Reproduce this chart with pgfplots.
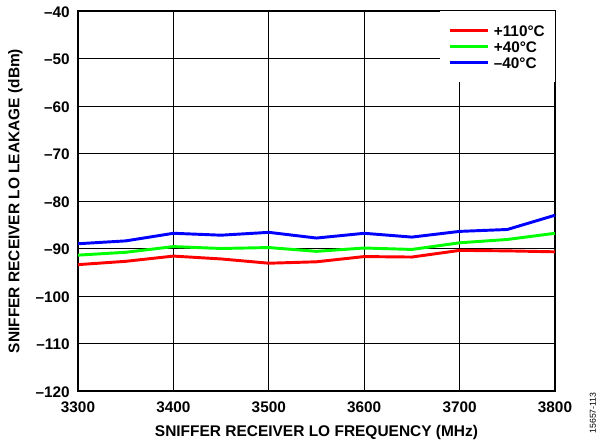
\documentclass[border=0pt]{standalone}
\usepackage{fontspec}
\setmainfont{Liberation Sans}
\usepackage{pgfplots}
\pgfplotsset{compat=1.18}
\definecolor{cred}{RGB}{255,0,0}
\definecolor{cgreen}{RGB}{0,255,0}
\definecolor{cblue}{RGB}{0,0,255}
\begin{document}
\begin{tikzpicture}
\begin{axis}[
  scale only axis, width=357.75pt, height=285pt,
  xmin=3300, xmax=3800, ymin=-120, ymax=-40,
  xtick={3300,3400,...,3800},
  xticklabels={3300,3400,3500,3600,3700,3800},
  ytick={-120,-110,...,-40},
  yticklabels={–120,–110,–100,–90,–80,–70,–60,–50,–40},
  grid=major, major grid style={black, line width=0.6pt},
  axis line style={line width=1.3pt},
  tick style={draw=none},
  ticklabel style={font=\bfseries\fontsize{11.5}{13}\selectfont, inner sep=0pt},
  xticklabel style={anchor=base, yshift=-16pt},
  yticklabel style={anchor=base east, xshift=-6pt, yshift=-4.6pt},
  xlabel={SNIFFER RECEIVER LO FREQUENCY (MHz)},
  ylabel={SNIFFER RECEIVER LO LEAKAGE (dBm)},
  label style={font=\bfseries\fontsize{11.6}{13}\selectfont, inner sep=0pt},
  xlabel style={at={(rel axis cs:0.5,0)}, anchor=base, yshift=-34.5pt},
  ylabel style={at={([xshift=-47pt]rel axis cs:0,0.5)}, anchor=center, rotate=0},
  legend style={at={(1,1)}, anchor=north east, draw=none, fill=white,
    font=\bfseries\fontsize{11.5}{12}\selectfont, inner xsep=6.5pt, inner ysep=9.5pt,
    nodes={inner sep=1pt, text height=8.2pt, text depth=0pt}, row sep=1.8pt,
    column sep=2.5pt},
  legend cell align=left,
  legend image code/.code={\draw[#1, line width=2.2pt] (0pt,0pt) -- (28.5pt,0pt);},
  clip=false,
]
\addplot[cred, line width=2.2pt] coordinates {
(3300,-93.4) (3350,-92.7) (3400,-91.6) (3450,-92.2) (3500,-93.1) (3550,-92.8)
(3600,-91.7) (3650,-91.8) (3700,-90.4) (3750,-90.5) (3800,-90.7)};
\addlegendentry{+110°C}
\addplot[cgreen, line width=2.2pt] coordinates {
(3300,-91.4) (3350,-90.8) (3400,-89.6) (3450,-90.0) (3500,-89.8) (3550,-90.6)
(3600,-89.9) (3650,-90.2) (3700,-88.8) (3750,-88.1) (3800,-86.8)};
\addlegendentry{+40°C}
\addplot[cblue, line width=2.2pt] coordinates {
(3300,-89.0) (3350,-88.4) (3400,-86.8) (3450,-87.2) (3500,-86.6) (3550,-87.8)
(3600,-86.8) (3650,-87.6) (3700,-86.4) (3750,-86.0) (3800,-83.0)};
\addlegendentry{–40°C}
\node[rotate=90, font=\fontsize{6.5}{7}\selectfont, anchor=center]
  at ([xshift=28.5pt,yshift=-16.5pt]rel axis cs:1,0) {15657-113};
\coordinate (LL) at (rel axis cs:0,0);
\coordinate (UR) at (rel axis cs:1,1);
\end{axis}
\pgfresetboundingbox
\path[use as bounding box] ([xshift=-58.5pt,yshift=-39.75pt]LL) rectangle ([xshift=33.75pt,yshift=8.25pt]UR);
\end{tikzpicture}
\end{document}
